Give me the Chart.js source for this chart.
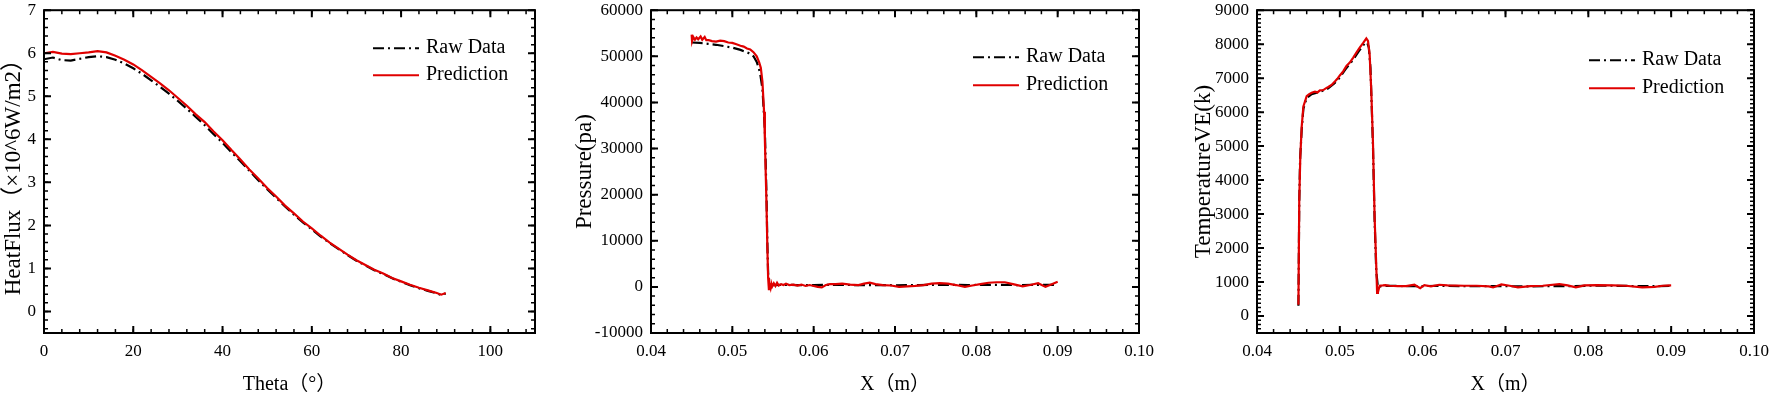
<!DOCTYPE html>
<html>
<head>
<meta charset="utf-8">
<script src="https://cdn.jsdelivr.net/npm/chart.js@4.4.0/dist/chart.umd.min.js"></script>
<style>
  body { margin: 0; background: #fff; width: 1772px; height: 397px; overflow: hidden; position: relative; }
  .box { position: absolute; top: 0; height: 397px; }
</style>
</head>
<body>
<div class="box" style="left:0"><canvas id="c1" width="560" height="397"></canvas></div>
<div class="box" style="left:571px"><canvas id="c2" width="590" height="397"></canvas></div>
<div class="box" style="left:1190px"><canvas id="c3" width="582" height="397"></canvas></div>
<script>
// ---- panel 1 : heat flux ----
var heatTheta = [0, 2, 4, 6, 8, 10, 12, 14, 16, 18, 20, 22, 24, 26, 28, 30, 32, 34, 36, 38, 40, 42, 44, 46,
                 48, 50, 52, 54, 56, 58, 60, 62, 64, 66, 68, 70, 72, 74, 76, 78, 80, 82, 84, 86, 88, 89, 90];
var heatRaw = [5.86, 5.90, 5.84, 5.83, 5.87, 5.91, 5.93, 5.91, 5.85, 5.76, 5.65, 5.52, 5.37, 5.22, 5.06, 4.89,
               4.71, 4.52, 4.33, 4.12, 3.92, 3.70, 3.49, 3.27, 3.05, 2.84, 2.64, 2.44, 2.25, 2.07, 1.91, 1.74,
               1.59, 1.45, 1.31, 1.18, 1.07, 0.96, 0.87, 0.77, 0.69, 0.61, 0.54, 0.48, 0.42, 0.38, 0.42];
var heatPred = [6.00, 6.03, 5.99, 5.98, 6.00, 6.02, 6.05, 6.02, 5.94, 5.85, 5.74, 5.60, 5.45, 5.30, 5.14, 4.96,
                4.78, 4.58, 4.40, 4.18, 3.98, 3.75, 3.53, 3.30, 3.09, 2.87, 2.67, 2.46, 2.28, 2.09, 1.93, 1.76,
                1.60, 1.46, 1.32, 1.19, 1.08, 0.97, 0.88, 0.78, 0.70, 0.62, 0.55, 0.49, 0.43, 0.39, 0.43];
var heatXTicks = [0, 20, 40, 60, 80, 100];
var heatYTicks = [0, 1, 2, 3, 4, 5, 6, 7];

// ---- panel 2 : pressure ----
var presRawX = [0.0450, 0.0460, 0.0470, 0.0480, 0.0490, 0.0500, 0.0510, 0.0520, 0.0526, 0.0530, 0.0534, 0.0537,
                0.0540, 0.0542, 0.0543, 0.0544, 0.0546, 0.0550, 0.0560, 0.0580, 0.0600, 0.0620, 0.0650, 0.0680,
                0.0700, 0.0730, 0.0760, 0.0790, 0.0820, 0.0850, 0.0880, 0.0900];
var presRaw = [53000, 52900, 52700, 52500, 52200, 51900, 51400, 50700, 50000, 48800, 46500, 43000,
               34000, 20000, 10000, 3000, 600, 400, 450, 400, 400, 450, 400, 400,
               350, 400, 450, 400, 450, 400, 450, 450];
var presPredX = [0.0450, 0.04505, 0.0452, 0.0454, 0.0456, 0.0458, 0.0461, 0.0463, 0.0466, 0.0468, 0.0471, 0.0475,
                 0.0480, 0.0485, 0.0490, 0.0495, 0.0500, 0.0505, 0.0510, 0.0514, 0.0518, 0.0522, 0.0526, 0.0530,
                 0.0533, 0.0535, 0.0537, 0.0539, 0.0540, 0.0541, 0.0542, 0.0543, 0.0544, 0.0545, 0.0546, 0.0547,
                 0.0548, 0.0549, 0.0551, 0.0553, 0.0555, 0.0557, 0.0560, 0.0563, 0.0566, 0.0570, 0.0575, 0.0580,
                 0.0585, 0.0590, 0.0595, 0.0600, 0.0605, 0.0610, 0.0615, 0.0620, 0.0627, 0.0635, 0.0645, 0.0655,
                 0.0662, 0.0669, 0.0676, 0.0685, 0.0695, 0.0705, 0.0715, 0.0725, 0.0735, 0.0745, 0.0755, 0.0765,
                 0.0775, 0.0786, 0.0795, 0.0805, 0.0815, 0.0825, 0.0835, 0.0845, 0.0857, 0.0866, 0.0876, 0.0885,
                 0.0892, 0.0900];
var presPred = [54700, 53300, 54200, 53600, 54100, 53700, 54300, 53600, 54200, 53500, 53500, 53300,
                53200, 53400, 53300, 53000, 52900, 52600, 52300, 52100, 51700, 51500, 50900, 50000,
                48700, 47500, 44500, 38000, 32000, 25000, 18000, 9000, 2000, -700, 300, -300,
                700, 100, 800, 200, 900, 300, 600, 400, 700, 400, 500, 300,
                500, 200, 400, 200, 0, -100, 400, 600, 600, 700, 500, 400,
                700, 900, 600, 400, 300, 0, 100, 200, 400, 700, 800, 700,
                400, 0, 300, 600, 900, 1000, 1000, 600, 100, 400, 800, 0,
                500, 1100];
var presXTicks = [0.04, 0.05, 0.06, 0.07, 0.08, 0.09, 0.10];
var presYTicks = [-10000, 0, 10000, 20000, 30000, 40000, 50000, 60000];

// ---- panel 3 : temperature ----
var tempRawX = [0.0450, 0.0451, 0.0452, 0.0454, 0.0456, 0.0460, 0.0466, 0.0476, 0.0486, 0.0494, 0.0500, 0.0508,
                0.0516, 0.0524, 0.0530, 0.0533, 0.0535, 0.0537, 0.0540, 0.0542, 0.0544, 0.0546, 0.0550, 0.0560,
                0.0580, 0.0600, 0.0620, 0.0650, 0.0680, 0.0700, 0.0720, 0.0750, 0.0780, 0.0800, 0.0830, 0.0860,
                0.0880, 0.0900];
var tempRaw = [300, 3300, 4600, 5500, 6100, 6420, 6530, 6600, 6700, 6860, 7020, 7300,
               7540, 7830, 8020, 8050, 7900, 7300, 5000, 2800, 1300, 850, 880, 890,
               880, 880, 890, 880, 880, 880, 870, 880, 880, 890, 890, 880,
               880, 890];
var tempPredX = [0.0450, 0.0451, 0.04523, 0.0454, 0.0456, 0.0460, 0.0463, 0.0466, 0.0470, 0.0473, 0.0476, 0.0480,
                 0.0483, 0.0486, 0.0490, 0.0494, 0.0497, 0.0500, 0.0504, 0.0508, 0.0512, 0.0516, 0.0520, 0.0524,
                 0.0528, 0.0532, 0.0534, 0.0536, 0.0538, 0.0540, 0.0542, 0.0544, 0.0545, 0.0546, 0.0548, 0.0552,
                 0.0555, 0.0560, 0.0570, 0.0580, 0.0590, 0.0597, 0.0602, 0.0610, 0.0620, 0.0630, 0.0650, 0.0665,
                 0.0680, 0.0685, 0.0695, 0.0705, 0.0715, 0.0730, 0.0745, 0.0765, 0.0775, 0.0785, 0.0795, 0.0810,
                 0.0830, 0.0845, 0.0865, 0.0880, 0.0890, 0.0900];
var tempPred = [330, 3400, 4700, 5580, 6170, 6470, 6530, 6570, 6600, 6580, 6640, 6650,
                6700, 6740, 6800, 6900, 6980, 7080, 7200, 7360, 7460, 7600, 7750, 7900,
                8030, 8170, 8100, 7700, 6600, 5100, 2900, 1450, 680, 700, 890, 900,
                910, 890, 880, 880, 920, 820, 910, 870, 920, 900, 890, 890,
                870, 840, 930, 890, 845, 880, 890, 940, 900, 845, 900, 910,
                900, 890, 845, 860, 890, 900];
var tempXTicks = [0.04, 0.05, 0.06, 0.07, 0.08, 0.09, 0.10];
var tempYTicks = [0, 1000, 2000, 3000, 4000, 5000, 6000, 7000, 8000, 9000];

var FONT = "'Liberation Serif', 'Times New Roman', 'Noto Sans CJK SC', serif";

function pts(xs, ys) {
    return xs.map((x, i) => ({ x: x, y: ys[i] }));
}

// box frame with inward ticks on all four sides
var framePlugin = {
    id: 'frame',
    afterDraw(chart, args, opts) {
        var ctx = chart.ctx, a = chart.chartArea;
        var xs = chart.scales.x, ys = chart.scales.y;
        ctx.save();
        ctx.strokeStyle = '#000';
        function marks(scale, step, len, lw, horizontal) {
            ctx.lineWidth = lw;
            var k0 = Math.ceil(scale.min / step - 1e-6);
            var k1 = Math.floor(scale.max / step + 1e-6);
            for (var k = k0; k <= k1; k++) {
                var p = scale.getPixelForValue(k * step);
                ctx.beginPath();
                if (horizontal) {
                    ctx.moveTo(p, a.bottom); ctx.lineTo(p, a.bottom - len);
                    ctx.moveTo(p, a.top); ctx.lineTo(p, a.top + len);
                } else {
                    ctx.moveTo(a.left, p); ctx.lineTo(a.left + len, p);
                    ctx.moveTo(a.right, p); ctx.lineTo(a.right - len, p);
                }
                ctx.stroke();
            }
        }
        marks(xs, opts.xMinor, 4, 1.5, true);
        marks(ys, opts.yMinor, 4, 1.5, false);
        ctx.lineWidth = 2;
        xs.ticks.forEach(t => {
            var p = xs.getPixelForValue(t.value);
            ctx.beginPath();
            ctx.moveTo(p, a.bottom); ctx.lineTo(p, a.bottom - 7);
            ctx.moveTo(p, a.top); ctx.lineTo(p, a.top + 7);
            ctx.stroke();
        });
        ys.ticks.forEach(t => {
            var p = ys.getPixelForValue(t.value);
            ctx.beginPath();
            ctx.moveTo(a.left, p); ctx.lineTo(a.left + 7, p);
            ctx.moveTo(a.right, p); ctx.lineTo(a.right - 7, p);
            ctx.stroke();
        });
        ctx.strokeRect(a.left, a.top, a.right - a.left, a.bottom - a.top);
        ctx.restore();
    }
};

// legend inside the plot, drawn from the dataset styles
var legendPlugin = {
    id: 'inLegend',
    afterDraw(chart, args, opts) {
        var ctx = chart.ctx, a = chart.chartArea;
        ctx.save();
        ctx.font = '20px ' + FONT;
        ctx.textBaseline = 'middle';
        chart.data.datasets.forEach((ds, i) => {
            var x = a.right - opts.fromRight;
            var y = a.top + opts.top + i * opts.gap;
            ctx.strokeStyle = ds.borderColor;
            ctx.lineWidth = 2;
            ctx.setLineDash(ds.borderDash || []);
            ctx.beginPath();
            ctx.moveTo(x, y); ctx.lineTo(x + 46, y);
            ctx.stroke();
            ctx.setLineDash([]);
            ctx.fillStyle = '#000';
            ctx.fillText(ds.label, x + 53, y);
        });
        ctx.restore();
    }
};

function makeChart(id, c) {
    return new Chart(document.getElementById(id), {
        type: 'line',
        data: {
            datasets: [{
                label: 'Raw Data',
                data: pts(c.rawX, c.raw),
                borderColor: '#000000',
                borderWidth: 2.2,
                borderDash: [11, 4, 2, 4],
                pointRadius: 0,
                order: 2
            }, {
                label: 'Prediction',
                data: pts(c.predX, c.pred),
                borderColor: '#e00000',
                borderWidth: 2.2,
                pointRadius: 0,
                order: 1
            }]
        },
        options: {
            responsive: false,
            animation: false,
            layout: { padding: { top: 10, right: c.padRight, left: 0, bottom: 0 } },
            plugins: {
                legend: { display: false },
                tooltip: { enabled: false },
                frame: { xMinor: c.xMinor, yMinor: c.yMinor },
                inLegend: c.legend
            },
            scales: {
                x: {
                    type: 'linear',
                    min: c.xMin, max: c.xMax,
                    grid: { display: false, drawTicks: true, tickLength: 8 },
                    border: { display: false },
                    afterBuildTicks: s => { s.ticks = c.xTicks.map(v => ({ value: v })); },
                    afterFit: s => { s.height = 64; },
                    ticks: {
                        autoSkip: false, maxRotation: 0, padding: 0, color: '#000',
                        font: { family: FONT, size: 17 },
                        callback: c.xFmt
                    },
                    title: {
                        display: true, text: c.xTitle, color: '#000',
                        font: { family: FONT, size: 20 }, padding: 0
                    }
                },
                y: {
                    type: 'linear',
                    min: c.yMin, max: c.yMax,
                    grid: { display: false, drawTicks: true, tickLength: 8 },
                    border: { display: false },
                    afterBuildTicks: s => { s.ticks = c.yTicks.map(v => ({ value: v })); },
                    afterFit: s => { s.width = c.yWidth; },
                    ticks: {
                        autoSkip: false, padding: 0, color: '#000',
                        font: { family: FONT, size: 17 },
                        callback: v => String(v)
                    },
                    title: {
                        display: true, text: c.yTitle, color: '#000',
                        font: { family: FONT, size: 23 }, padding: 0
                    }
                }
            }
        },
        plugins: [framePlugin, legendPlugin]
    });
}

makeChart('c1', {
    rawX: heatTheta, raw: heatRaw, predX: heatTheta, pred: heatPred,
    xMin: 0, xMax: 110, yMin: -0.5, yMax: 7,
    xTicks: heatXTicks, yTicks: heatYTicks, xMinor: 4, yMinor: 0.2,
    xFmt: v => String(v),
    xTitle: 'Theta（°）', yTitle: 'HeatFlux（×10^6W/m2）',
    yWidth: 44, padRight: 25,
    legend: { fromRight: 162, top: 38, gap: 27 }
});

makeChart('c2', {
    rawX: presRawX, raw: presRaw, predX: presPredX, pred: presPred,
    xMin: 0.04, xMax: 0.10, yMin: -10000, yMax: 60000,
    xTicks: presXTicks, yTicks: presYTicks, xMinor: 0.002, yMinor: 2000,
    xFmt: v => v.toFixed(2),
    xTitle: 'X（m）', yTitle: 'Pressure(pa)',
    yWidth: 80, padRight: 22,
    legend: { fromRight: 166, top: 47, gap: 28 }
});

makeChart('c3', {
    rawX: tempRawX, raw: tempRaw, predX: tempPredX, pred: tempPred,
    xMin: 0.04, xMax: 0.10, yMin: -500, yMax: 9000,
    xTicks: tempXTicks, yTicks: tempYTicks, xMinor: 0.002, yMinor: 125,
    xFmt: v => v.toFixed(2),
    xTitle: 'X（m）', yTitle: 'TemperatureVE(k)',
    yWidth: 67, padRight: 18,
    legend: { fromRight: 165, top: 50, gap: 28 }
});
</script>
</body>
</html>
